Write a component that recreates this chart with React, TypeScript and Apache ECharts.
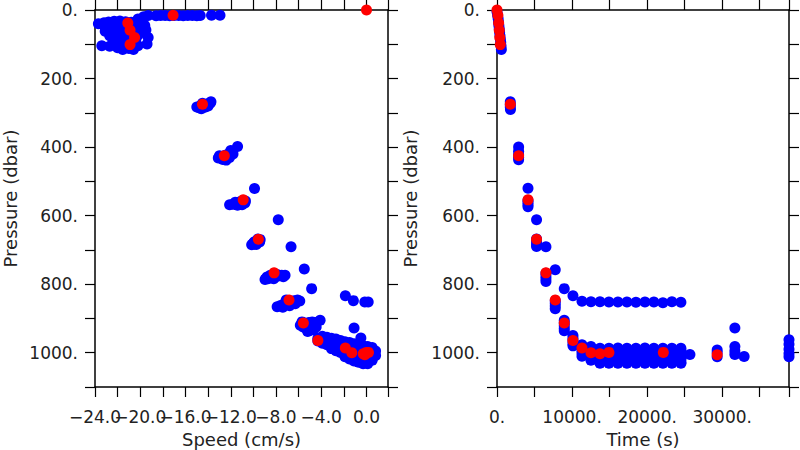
import React, { useEffect, useRef } from 'react';
import * as echarts from 'echarts';

// ---- Red points (profile averages), shared between both panels ----
const redPressure = [0, 15, 38, 59, 80, 101, 275, 425, 554, 669, 767, 846, 913, 964, 986, 1000, 1003, 1006, 999, 999];
const redSpeed = [0.0, -17.1, -21.1, -20.9, -20.5, -20.9, -14.5, -12.57, -10.9, -9.56, -8.17, -6.85, -5.58, -4.3, -1.87, -1.3, -0.29, -0.15, 0.0, 0.17];
const redTime = [0, 120, 220, 300, 370, 440, 1770, 2880, 4130, 5270, 6520, 7760, 8960, 10120, 11320, 12520, 13720, 29330, 14910, 22160];

// ---- Blue points, left panel: [speed (cm/s), pressure (dbar)] ----
const blueSpeedPressure: [number, number][] = [
  [-23.7, 40], [-23.2, 37], [-22.8, 35], [-22.3, 33], [-21.8, 32], [-21.3, 34], [-20.8, 36], [-20.3, 35], [-19.9, 34],
  [-23.1, 50], [-22.6, 48], [-22.1, 46], [-21.6, 47], [-21.1, 50], [-20.6, 49], [-20.1, 47], [-19.6, 45],
  [-23.1, 62], [-22.5, 60], [-22.0, 58], [-21.5, 62], [-21.0, 64], [-20.5, 61], [-19.9, 62], [-19.5, 58],
  [-22.7, 75], [-22.2, 72], [-21.7, 76], [-21.2, 73], [-20.7, 70], [-20.2, 74],
  [-22.4, 88], [-21.9, 85], [-21.4, 90], [-20.9, 86], [-20.4, 88], [-19.3, 80],
  [-23.4, 104], [-22.7, 106], [-22.2, 100], [-21.7, 98], [-21.2, 102], [-20.7, 97], [-20.2, 104], [-19.4, 99],
  [-22.0, 110], [-21.0, 112], [-21.55, 115], [-20.6, 115],
  [-19.7, 20], [-19.3, 16], [-20.2, 26],
  [-18.6, 17], [-18.2, 16], [-17.8, 16], [-17.4, 17], [-17.0, 16], [-16.6, 16], [-16.2, 17], [-15.8, 16],
  [-15.4, 16], [-15.0, 17], [-14.7, 16], [-13.7, 15], [-12.95, 15],
  [-15.0, 283], [-14.7, 280], [-14.4, 277], [-14.1, 274], [-13.8, 271], [-13.75, 268], [-14.3, 284], [-14.6, 288],
  [-14.0, 280], [-14.8, 285], [-14.5, 272],
  [-11.4, 398],
  [-13.1, 432], [-12.8, 428], [-12.5, 424], [-12.2, 420], [-11.9, 414], [-12.7, 436], [-12.4, 438], [-12.1, 430],
  [-11.8, 420], [-12.0, 410], [-13.0, 425],
  [-9.9, 521],
  [-12.1, 568], [-11.8, 567], [-11.5, 566], [-11.2, 564], [-10.9, 560], [-10.7, 557], [-11.4, 570], [-11.0, 568],
  [-11.6, 561], [-11.1, 558], [-10.75, 563],
  [-7.8, 612],
  [-10.15, 685], [-9.9, 683], [-9.7, 679], [-9.5, 674], [-9.4, 670], [-9.6, 668], [-9.9, 676], [-10.0, 680],
  [-9.45, 677], [-9.75, 684],
  [-6.67, 691],
  [-8.97, 786], [-8.7, 784], [-8.4, 781], [-8.1, 779], [-7.8, 776], [-7.5, 774], [-7.2, 774], [-8.5, 774],
  [-7.9, 772], [-7.35, 778], [-8.8, 779], [-8.2, 784],
  [-5.5, 756], [-4.85, 813],
  [-7.9, 866], [-7.6, 862], [-7.3, 858], [-7.0, 855], [-6.7, 851], [-6.4, 848], [-6.1, 846], [-5.9, 849],
  [-7.4, 867], [-6.8, 863], [-6.3, 857], [-7.1, 846],
  [-1.87, 834], [-1.16, 848], [-0.15, 852], [0.15, 852],
  [-5.85, 920], [-5.6, 925], [-5.3, 930], [-5.0, 935], [-4.7, 932], [-4.45, 925], [-5.4, 915], [-5.1, 912],
  [-4.8, 910], [-4.5, 912], [-5.2, 938], [-4.9, 922], [-5.7, 910], [-4.1, 905],
  [-1.1, 928], [-0.5, 957],
  [-4.3, 958], [-4.3, 966],
  [-3.9, 952], [-3.9, 962], [-3.9, 972],
  [-3.5, 955], [-3.5, 965], [-3.5, 977],
  [-3.1, 958], [-3.1, 968], [-3.1, 978], [-3.1, 988],
  [-2.7, 960], [-2.7, 970], [-2.7, 982], [-2.7, 994],
  [-2.3, 964], [-2.3, 975], [-2.3, 987], [-2.3, 999],
  [-1.9, 968], [-1.9, 978], [-1.9, 990], [-1.9, 1002], [-1.9, 1012],
  [-1.5, 970], [-1.5, 982], [-1.5, 994], [-1.5, 1006], [-1.5, 1018],
  [-1.1, 974], [-1.1, 986], [-1.1, 998], [-1.1, 1010], [-1.1, 1024],
  [-0.7, 978], [-0.7, 990], [-0.7, 1002], [-0.7, 1014], [-0.7, 1028],
  [-0.3, 980], [-0.3, 992], [-0.3, 1005], [-0.3, 1018], [-0.3, 1032],
  [0.1, 982], [0.1, 995], [0.1, 1008], [0.1, 1020], [0.1, 1032],
  [0.5, 985], [0.5, 998], [0.5, 1010], [0.5, 1022],
  [0.8, 995], [0.8, 1008],
];

// ---- Blue points, right panel: [time (s), pressure (dbar)] ----
const blueTimePressure: [number, number][] = [
  [0, 5], [80, 15], [150, 25], [200, 35], [250, 45], [300, 55], [350, 65], [400, 75], [450, 85], [500, 95], [540, 105], [580, 115],
  [1770, 268], [1770, 276], [1770, 283], [1790, 290],
  [2880, 400], [2880, 412], [2880, 422], [2880, 430], [2880, 437],
  [4130, 520], [4130, 556], [4130, 562], [4130, 568], [4130, 574],
  [5270, 612], [5270, 668], [5270, 676], [5270, 684], [5270, 690],
  [6520, 691], [6520, 768], [6520, 776], [6520, 784], [6520, 792],
  [7760, 758], [7760, 848], [7760, 856], [7760, 864], [7760, 872],
  [8960, 813], [8960, 905], [8960, 913], [8960, 921], [8960, 929], [8960, 936],
  [10120, 834], [10120, 950], [10120, 958], [10120, 966], [10120, 974], [10120, 980],
  [11320, 850], [12520, 851], [13720, 851], [14910, 852], [16110, 852], [17310, 852],
  [18510, 853], [19710, 852], [20900, 852], [22100, 854], [23300, 851], [24500, 853],
  [11320, 977], [11320, 985], [11320, 993], [11320, 1001], [11320, 1010],
  [12520, 982], [12520, 990], [12520, 998], [12520, 1006], [12520, 1014], [12520, 1022],
  [13720, 987], [13720, 995], [13720, 1003], [13720, 1011], [13720, 1019], [13720, 1027], [13720, 1031],
  [14910, 987], [14910, 995], [14910, 1003], [14910, 1011], [14910, 1019], [14910, 1027], [14910, 1031],
  [16110, 986], [16110, 994], [16110, 1002], [16110, 1010], [16110, 1018], [16110, 1026], [16110, 1031],
  [17310, 987], [17310, 995], [17310, 1003], [17310, 1011], [17310, 1019], [17310, 1027], [17310, 1031],
  [18510, 987], [18510, 995], [18510, 1003], [18510, 1011], [18510, 1019], [18510, 1027], [18510, 1031],
  [19710, 986], [19710, 994], [19710, 1002], [19710, 1010], [19710, 1018], [19710, 1026], [19710, 1031],
  [20900, 987], [20900, 995], [20900, 1003], [20900, 1011], [20900, 1019], [20900, 1027], [20900, 1031],
  [22100, 987], [22100, 995], [22100, 1003], [22100, 1011], [22100, 1019], [22100, 1027], [22100, 1031],
  [23300, 987], [23300, 995], [23300, 1003], [23300, 1011], [23300, 1019], [23300, 1027], [23300, 1031],
  [24500, 987], [24500, 995], [24500, 1003], [24500, 1011], [24500, 1019], [24500, 1027], [24500, 1031],
  [25700, 1005],
  [29330, 992], [29330, 1000], [29330, 1012],
  [31690, 928], [31690, 982], [31690, 995], [31690, 1005],
  [32920, 1011],
  [38900, 962], [38900, 975], [38900, 990], [38900, 1002], [38900, 1012],
];

// ---- Axis ranges / ticks ----
const speedRange = [-24, 1.9];
const speedTickStep = 2;
const speedLabelStep = 4;
const timeRange = [0, 38900];
const timeTickStep = 5000;
const timeLabelStep = 10000;
const pressureRange = [0, 1100];
const pressureTickStep = 100;
const pressureLabelStep = 200;

const FONT = 'DejaVu Sans';
const TEXT = '#222';

function isMultiple(v: number, step: number) {
  const r = Math.round(v / step);
  return Math.abs(v - r * step) < 1e-6;
}

const speedFmt = (v: number) => {
  if (!isMultiple(v, speedLabelStep)) return '';
  const r = Math.round(v);
  const s = Math.abs(r).toFixed(1);
  return r < 0 ? '\u2212' + s : s;
};
const timeFmt = (v: number) => (isMultiple(v, timeLabelStep) ? `${Math.round(v)}.` : '');
const pressureFmt = (v: number) => (isMultiple(v, pressureLabelStep) ? `${Math.round(v)}.` : '');

const lineStyle = { color: '#000', width: 1.5 };
const tickStyle = { show: true, inside: false, length: 10, lineStyle: { color: '#000', width: 1.2 } };

function xAxis(grid: number, pos: 'top' | 'bottom', range: number[], step: number, fmt: any, name: string) {
  const labels = pos === 'bottom';
  return {
    type: 'value',
    gridIndex: grid,
    position: pos,
    min: range[0],
    max: range[1],
    interval: step,
    name: labels ? name : '',
    nameLocation: 'middle',
    nameGap: 43,
    nameTextStyle: { fontFamily: FONT, fontSize: 18, color: TEXT },
    axisLine: { show: true, onZero: false, lineStyle },
    axisTick: tickStyle,
    axisLabel: labels
      ? { show: true, formatter: fmt, margin: 21, fontFamily: FONT, fontSize: 17, color: TEXT, hideOverlap: false, showMinLabel: true, showMaxLabel: true }
      : { show: false },
    splitLine: { show: false },
  };
}

function yAxis(grid: number, pos: 'left' | 'right', gap: number) {
  const labels = pos === 'left';
  return {
    type: 'value',
    gridIndex: grid,
    position: pos,
    inverse: true,
    min: pressureRange[0],
    max: pressureRange[1],
    interval: pressureTickStep,
    name: labels ? 'Pressure (dbar)' : '',
    nameLocation: 'middle',
    nameRotate: 90,
    nameGap: gap,
    nameTextStyle: { fontFamily: FONT, fontSize: 18, color: TEXT },
    axisLine: { show: true, onZero: false, lineStyle },
    axisTick: tickStyle,
    axisLabel: labels
      ? { show: true, formatter: pressureFmt, margin: 17, fontFamily: FONT, fontSize: 17, color: TEXT, hideOverlap: false }
      : { show: false },
    splitLine: { show: false },
  };
}

export default function App() {
  const ref = useRef<HTMLDivElement>(null);
  useEffect(() => {
    if (!ref.current) return;
    const chart = echarts.init(ref.current, undefined, { renderer: 'svg' });
    const redLeft = redSpeed.map((s, i) => [s, redPressure[i]]);
    const redRight = redTime.map((t, i) => [t, redPressure[i]]);
    chart.setOption({
      animation: false,
      backgroundColor: '#fff',
      grid: [
        { left: 95, top: 10, width: 293, height: 377, containLabel: false, outerBoundsMode: 'none' },
        { left: 497, top: 10, width: 292, height: 377, containLabel: false, outerBoundsMode: 'none' },
      ],
      xAxis: [
        xAxis(0, 'bottom', speedRange, speedTickStep, speedFmt, 'Speed (cm/s)'),
        xAxis(0, 'top', speedRange, speedTickStep, speedFmt, ''),
        xAxis(1, 'bottom', timeRange, timeTickStep, timeFmt, 'Time (s)'),
        xAxis(1, 'top', timeRange, timeTickStep, timeFmt, ''),
      ],
      yAxis: [yAxis(0, 'left', 76), yAxis(0, 'right', 0), yAxis(1, 'left', 78), yAxis(1, 'right', 0)],
      series: [
        { type: 'scatter', xAxisIndex: 0, yAxisIndex: 0, data: blueSpeedPressure, symbolSize: 11, itemStyle: { color: '#0000ff', opacity: 1 } },
        { type: 'scatter', xAxisIndex: 0, yAxisIndex: 0, data: redLeft, symbolSize: 11, itemStyle: { color: '#ff0000', opacity: 1 } },
        { type: 'scatter', xAxisIndex: 2, yAxisIndex: 2, data: blueTimePressure, symbolSize: 11, itemStyle: { color: '#0000ff', opacity: 1 } },
        { type: 'scatter', xAxisIndex: 2, yAxisIndex: 2, data: redRight, symbolSize: 11, itemStyle: { color: '#ff0000', opacity: 1 } },
      ],
    });
    return () => chart.dispose();
  }, []);
  return <div ref={ref} style={{ position: 'absolute', left: 0, top: 0, width: 800, height: 450 }} />;
}
